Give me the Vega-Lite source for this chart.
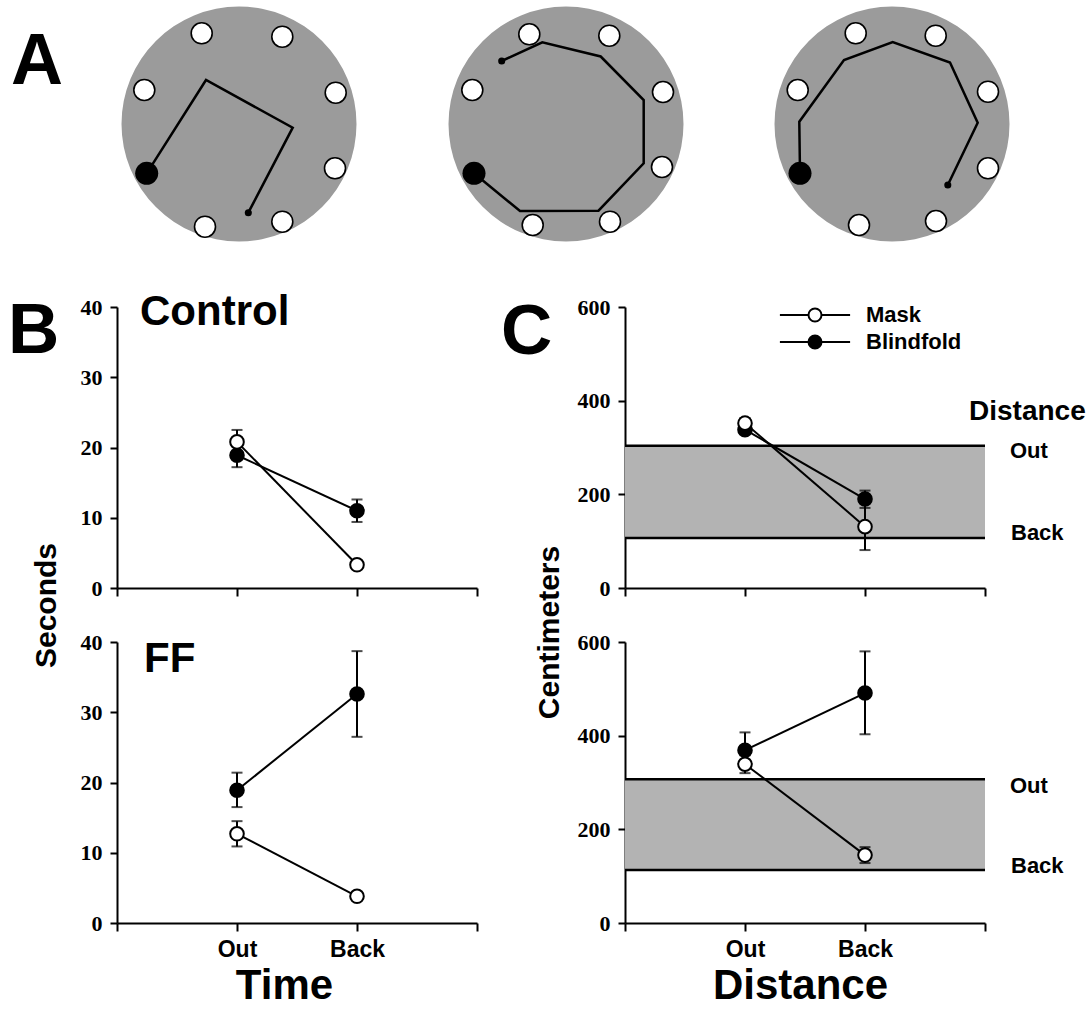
{
  "$schema": "https://vega.github.io/schema/vega-lite/v6.json",
  "background": "white",
  "padding": {"left": 8, "top": 2, "right": 0, "bottom": 0},
  "config": {
    "view": {"stroke": null},
    "font": "Liberation Sans",
    "axis": {
      "domainColor": "black", "domainWidth": 2, "tickColor": "black", "tickWidth": 2,
      "grid": false, "labelColor": "black", "titleColor": "black", "zindex": 1
    }
  },
  "datasets": {
    "results": [
      {"measure": "Time", "cond": "Control", "group": "Blindfold", "phase": "Out", "mean": 18.9, "lo": 17.2, "hi": 20.6},
      {"measure": "Time", "cond": "Control", "group": "Blindfold", "phase": "Back", "mean": 11.0, "lo": 9.4, "hi": 12.6},
      {"measure": "Time", "cond": "Control", "group": "Mask", "phase": "Out", "mean": 20.8, "lo": 19.1, "hi": 22.5},
      {"measure": "Time", "cond": "Control", "group": "Mask", "phase": "Back", "mean": 3.3, "lo": 3.3, "hi": 3.3},
      {"measure": "Time", "cond": "FF", "group": "Blindfold", "phase": "Out", "mean": 18.9, "lo": 16.5, "hi": 21.4},
      {"measure": "Time", "cond": "FF", "group": "Blindfold", "phase": "Back", "mean": 32.6, "lo": 26.5, "hi": 38.7},
      {"measure": "Time", "cond": "FF", "group": "Mask", "phase": "Out", "mean": 12.7, "lo": 10.9, "hi": 14.5},
      {"measure": "Time", "cond": "FF", "group": "Mask", "phase": "Back", "mean": 3.8, "lo": 3.6, "hi": 4.0},
      {"measure": "Distance", "cond": "Control", "group": "Blindfold", "phase": "Out", "mean": 338, "lo": 329, "hi": 347},
      {"measure": "Distance", "cond": "Control", "group": "Blindfold", "phase": "Back", "mean": 190, "lo": 171, "hi": 208},
      {"measure": "Distance", "cond": "Control", "group": "Mask", "phase": "Out", "mean": 352, "lo": 341, "hi": 363},
      {"measure": "Distance", "cond": "Control", "group": "Mask", "phase": "Back", "mean": 131, "lo": 81, "hi": 181},
      {"measure": "Distance", "cond": "FF", "group": "Blindfold", "phase": "Out", "mean": 369, "lo": 331, "hi": 407},
      {"measure": "Distance", "cond": "FF", "group": "Blindfold", "phase": "Back", "mean": 491, "lo": 403, "hi": 580},
      {"measure": "Distance", "cond": "FF", "group": "Mask", "phase": "Out", "mean": 339, "lo": 320, "hi": 358},
      {"measure": "Distance", "cond": "FF", "group": "Mask", "phase": "Back", "mean": 145, "lo": 128, "hi": 162}
    ],
    "bands": [
      {"cond": "Control", "low": 107, "high": 304},
      {"cond": "FF", "low": 113, "high": 307}
    ],
    "disks": [
      {"arena": 1, "x": 1.01, "y": 0},
      {"arena": 2, "x": 4.28, "y": 0},
      {"arena": 3, "x": 7.54, "y": 0}
    ],
    "holes": [
      {"arena": 1, "kind": "open", "x": 0.637, "y": 0.907},
      {"arena": 1, "kind": "open", "x": 1.443, "y": 0.873},
      {"arena": 1, "kind": "open", "x": 0.063, "y": 0.34},
      {"arena": 1, "kind": "open", "x": 1.977, "y": 0.313},
      {"arena": 1, "kind": "open", "x": 1.97, "y": -0.443},
      {"arena": 1, "kind": "open", "x": 0.67, "y": -1.027},
      {"arena": 1, "kind": "open", "x": 1.443, "y": -0.977},
      {"arena": 1, "kind": "start", "x": 0.087, "y": -0.493},
      {"arena": 2, "kind": "open", "x": 3.913, "y": 0.897},
      {"arena": 2, "kind": "open", "x": 4.713, "y": 0.883},
      {"arena": 2, "kind": "open", "x": 3.343, "y": 0.34},
      {"arena": 2, "kind": "open", "x": 5.25, "y": 0.32},
      {"arena": 2, "kind": "open", "x": 5.24, "y": -0.43},
      {"arena": 2, "kind": "open", "x": 3.947, "y": -1.01},
      {"arena": 2, "kind": "open", "x": 4.72, "y": -0.977},
      {"arena": 2, "kind": "start", "x": 3.36, "y": -0.493},
      {"arena": 3, "kind": "open", "x": 7.177, "y": 0.907},
      {"arena": 3, "kind": "open", "x": 7.977, "y": 0.883},
      {"arena": 3, "kind": "open", "x": 6.597, "y": 0.34},
      {"arena": 3, "kind": "open", "x": 8.5, "y": 0.323},
      {"arena": 3, "kind": "open", "x": 8.5, "y": -0.443},
      {"arena": 3, "kind": "open", "x": 7.21, "y": -1.01},
      {"arena": 3, "kind": "open", "x": 7.98, "y": -0.97},
      {"arena": 3, "kind": "start", "x": 6.62, "y": -0.493}
    ],
    "paths": [
      {"arena": 1, "step": 1, "x": 0.087, "y": -0.493, "end": false},
      {"arena": 1, "step": 2, "x": 0.68, "y": 0.44, "end": false},
      {"arena": 1, "step": 3, "x": 1.547, "y": -0.037, "end": false},
      {"arena": 1, "step": 4, "x": 1.103, "y": -0.887, "end": true},
      {"arena": 2, "step": 1, "x": 3.36, "y": -0.493, "end": false},
      {"arena": 2, "step": 2, "x": 3.82, "y": -0.87, "end": false},
      {"arena": 2, "step": 3, "x": 4.605, "y": -0.867, "end": false},
      {"arena": 2, "step": 4, "x": 5.057, "y": -0.393, "end": false},
      {"arena": 2, "step": 5, "x": 5.057, "y": 0.24, "end": false},
      {"arena": 2, "step": 6, "x": 4.627, "y": 0.675, "end": false},
      {"arena": 2, "step": 7, "x": 4.043, "y": 0.817, "end": false},
      {"arena": 2, "step": 8, "x": 3.637, "y": 0.63, "end": true},
      {"arena": 3, "step": 1, "x": 6.62, "y": -0.493, "end": false},
      {"arena": 3, "step": 2, "x": 6.613, "y": 0.023, "end": false},
      {"arena": 3, "step": 3, "x": 7.06, "y": 0.64, "end": false},
      {"arena": 3, "step": 4, "x": 7.547, "y": 0.82, "end": false},
      {"arena": 3, "step": 5, "x": 8.12, "y": 0.615, "end": false},
      {"arena": 3, "step": 6, "x": 8.397, "y": 0.013, "end": false},
      {"arena": 3, "step": 7, "x": 8.098, "y": -0.61, "end": true}
    ]
  },
  "columns": 2,
  "spacing": {"row": 54, "column": 148},
  "bounds": "flush",
  "align": "each",
  "resolve": {"legend": {"fill": "independent"}},
  "concat": [
    {
      "width": 360, "height": 251,
      "layer": [
        {
          "data": {"name": "disks"},
          "mark": {"type": "point", "filled": true, "size": 55225, "fill": "#9b9b9b", "opacity": 1, "strokeWidth": 0},
          "encoding": {
            "x": {"field": "x", "type": "quantitative", "scale": {"domain": [-0.21, 3.39], "nice": false, "zero": false}, "axis": null},
            "y": {"field": "y", "type": "quantitative", "scale": {"domain": [-1.29, 1.22], "nice": false, "zero": false}, "axis": null}
          }
        },
        {
          "data": {"name": "holes"},
          "transform": [{"filter": "datum.kind == 'open'"}],
          "mark": {"type": "point", "filled": true, "size": 441, "fill": "white", "stroke": "black", "strokeWidth": 1.6, "opacity": 1},
          "encoding": {
            "x": {"field": "x", "type": "quantitative"},
            "y": {"field": "y", "type": "quantitative"}
          }
        },
        {
          "data": {"name": "paths"},
          "mark": {"type": "line", "color": "black", "strokeWidth": 2.5},
          "encoding": {
            "x": {"field": "x", "type": "quantitative"},
            "y": {"field": "y", "type": "quantitative"},
            "detail": {"field": "arena", "type": "nominal"},
            "order": {"field": "step", "type": "quantitative"}
          }
        },
        {
          "data": {"name": "holes"},
          "transform": [{"filter": "datum.kind == 'start'"}],
          "mark": {"type": "point", "filled": true, "size": 530, "fill": "black", "opacity": 1},
          "encoding": {
            "x": {"field": "x", "type": "quantitative"},
            "y": {"field": "y", "type": "quantitative"}
          }
        },
        {
          "data": {"name": "paths"},
          "transform": [{"filter": "datum.end"}],
          "mark": {"type": "point", "filled": true, "size": 50, "fill": "black", "opacity": 1},
          "encoding": {
            "x": {"field": "x", "type": "quantitative"},
            "y": {"field": "y", "type": "quantitative"}
          }
        },
        {
          "data": {"values": [{}]},
          "mark": {"type": "text", "text": "A", "align": "left", "baseline": "alphabetic", "fontSize": 72, "fontWeight": "bold", "color": "black"},
          "encoding": {
            "x": {"datum": -1.27, "type": "quantitative"},
            "y": {"datum": 0.4, "type": "quantitative"}
          }
        }
      ]
    },
    {
      "width": 360, "height": 10,
      "data": {"values": []},
      "mark": "point"
    },
    {
      "width": 360, "height": 281,
      "layer": [
        {
          "data": {"name": "results"},
          "transform": [{"filter": "datum.measure == 'Time' && datum.cond == 'Control'"}],
          "mark": {"type": "line", "color": "black", "strokeWidth": 2},
          "encoding": {
            "x": {"field": "phase", "type": "ordinal", "scale": {"type": "point", "domain": ["origin", "Out", "Back", "end"], "padding": 0},
                  "axis": {"labels": false, "title": null, "tickSize": 8}},
            "y": {"field": "mean", "type": "quantitative", "title": "Seconds", "scale": {"domain": [0, 40], "nice": false, "zero": false},
                  "axis": {"values": [0, 10, 20, 30, 40], "tickSize": 7, "labelPadding": 8, "labelFont": "Liberation Serif", "labelFontWeight": "bold", "labelFontSize": 22, "labelFlush": false,
                           "title": "Seconds", "titleFont": "Liberation Sans", "titleFontWeight": "bold", "titleFontSize": 30, "titleAngle": 270, "titleAlign": "center", "titleBaseline": "alphabetic", "titleX": -62, "titleY": 298}},
            "detail": {"field": "group", "type": "nominal"}
          }
        },
        {
          "data": {"name": "results"},
          "transform": [{"filter": "datum.measure == 'Time' && datum.cond == 'Control'"}],
          "mark": {"type": "errorbar", "color": "black", "ticks": {"size": 11, "thickness": 2, "color": "black"}, "rule": {"strokeWidth": 2, "color": "black"}},
          "encoding": {
            "x": {"field": "phase", "type": "ordinal"},
            "y": {"field": "lo", "type": "quantitative", "title": "Seconds", "scale": {"domain": [0, 40]}},
            "y2": {"field": "hi"}
          }
        },
        {
          "data": {"name": "results"},
          "transform": [{"filter": "datum.measure == 'Time' && datum.cond == 'Control'"}],
          "mark": {"type": "point", "filled": true, "size": 185, "stroke": "black", "strokeWidth": 2, "opacity": 1},
          "encoding": {
            "x": {"field": "phase", "type": "ordinal"},
            "y": {"field": "mean", "type": "quantitative", "title": "Seconds"},
            "fill": {"field": "group", "type": "nominal", "scale": {"domain": ["Mask", "Blindfold"], "range": ["white", "black"]}, "legend": null}
          }
        },
        {
          "data": {"values": [{}]},
          "mark": {"type": "text", "text": "B", "align": "left", "baseline": "alphabetic", "fontSize": 71, "fontWeight": "bold", "color": "black", "dx": -109},
          "encoding": {
            "x": {"datum": "origin", "type": "ordinal"},
            "y": {"datum": 33.45, "type": "quantitative", "title": "Seconds"}
          }
        },
        {
          "data": {"values": [{}]},
          "mark": {"type": "text", "text": "Control", "align": "left", "baseline": "alphabetic", "fontSize": 42, "fontWeight": "bold", "color": "black", "dx": 23},
          "encoding": {
            "x": {"datum": "origin", "type": "ordinal"},
            "y": {"datum": 37.44, "type": "quantitative", "title": "Seconds"}
          }
        }
      ]
    },
    {
      "width": 360, "height": 281,
      "layer": [
        {
          "data": {"name": "bands"},
          "transform": [{"filter": "datum.cond == 'Control'"}],
          "mark": {"type": "rect", "fill": "#b3b3b3", "opacity": 1},
          "encoding": {
            "x": {"datum": "origin", "type": "ordinal", "scale": {"type": "point", "domain": ["origin", "Out", "Back", "end"], "padding": 0},
                  "axis": {"labels": false, "title": null, "tickSize": 8}},
            "x2": {"datum": "end"},
            "y": {"field": "low", "type": "quantitative", "title": "Centimeters", "scale": {"domain": [0, 600], "nice": false, "zero": false},
                  "axis": {"values": [0, 200, 400, 600], "tickSize": 7, "labelPadding": 8, "labelFont": "Liberation Serif", "labelFontWeight": "bold", "labelFontSize": 22, "labelFlush": false,
                           "title": "Centimeters", "titleFont": "Liberation Sans", "titleFontWeight": "bold", "titleFontSize": 30, "titleAngle": 270, "titleAlign": "center", "titleBaseline": "alphabetic", "titleX": -67, "titleY": 325}},
            "y2": {"field": "high"}
          }
        },
        {
          "data": {"name": "bands"},
          "transform": [{"filter": "datum.cond == 'Control'"}],
          "mark": {"type": "rule", "color": "black", "strokeWidth": 2.5},
          "encoding": {
            "x": {"datum": "origin", "type": "ordinal"},
            "x2": {"datum": "end"},
            "y": {"field": "high", "type": "quantitative", "title": "Centimeters"}
          }
        },
        {
          "data": {"name": "bands"},
          "transform": [{"filter": "datum.cond == 'Control'"}],
          "mark": {"type": "rule", "color": "black", "strokeWidth": 2.5},
          "encoding": {
            "x": {"datum": "origin", "type": "ordinal"},
            "x2": {"datum": "end"},
            "y": {"field": "low", "type": "quantitative", "title": "Centimeters"}
          }
        },
        {
          "data": {"name": "results"},
          "transform": [{"filter": "datum.measure == 'Distance' && datum.cond == 'Control'"}],
          "mark": {"type": "line", "color": "black", "strokeWidth": 2},
          "encoding": {
            "x": {"field": "phase", "type": "ordinal"},
            "y": {"field": "mean", "type": "quantitative", "title": "Centimeters"},
            "detail": {"field": "group", "type": "nominal"}
          }
        },
        {
          "data": {"name": "results"},
          "transform": [{"filter": "datum.measure == 'Distance' && datum.cond == 'Control'"}],
          "mark": {"type": "errorbar", "color": "black", "ticks": {"size": 11, "thickness": 2, "color": "black"}, "rule": {"strokeWidth": 2, "color": "black"}},
          "encoding": {
            "x": {"field": "phase", "type": "ordinal"},
            "y": {"field": "lo", "type": "quantitative", "title": "Centimeters"},
            "y2": {"field": "hi"}
          }
        },
        {
          "data": {"name": "results"},
          "transform": [{"filter": "datum.measure == 'Distance' && datum.cond == 'Control'"}],
          "mark": {"type": "point", "filled": true, "size": 185, "stroke": "black", "strokeWidth": 2, "opacity": 1},
          "encoding": {
            "x": {"field": "phase", "type": "ordinal"},
            "y": {"field": "mean", "type": "quantitative", "title": "Centimeters"},
            "fill": {"field": "group", "type": "nominal", "scale": {"domain": ["Mask", "Blindfold"], "range": ["white", "black"]},
                     "legend": {"orient": "none", "legendX": 179, "legendY": -3, "title": null, "padding": 0,
                                "symbolType": "M-5.4,0H-1M1,0H5.4M1,0A1,1,0,1,1,-1,0A1,1,0,1,1,1,0Z", "symbolSize": 169,
                                "symbolStrokeColor": "black", "symbolStrokeWidth": 2, "symbolOffset": 0,
                                "labelFont": "Liberation Sans", "labelFontWeight": "bold", "labelFontSize": 22, "labelColor": "black",
                                "labelOffset": 40, "rowPadding": 5}}
          }
        },
        {
          "data": {"values": [{}]},
          "mark": {"type": "text", "text": "C", "align": "left", "baseline": "alphabetic", "fontSize": 71, "fontWeight": "bold", "color": "black", "dx": -124},
          "encoding": {
            "x": {"datum": "origin", "type": "ordinal"},
            "y": {"datum": 500, "type": "quantitative", "title": "Centimeters"}
          }
        },
        {
          "data": {"values": [{}]},
          "mark": {"type": "text", "text": "Distance", "align": "left", "baseline": "alphabetic", "fontSize": 28, "fontWeight": "bold", "color": "black", "dx": -16},
          "encoding": {
            "x": {"datum": "end", "type": "ordinal"},
            "y": {"datum": 359, "type": "quantitative", "title": "Centimeters"}
          }
        },
        {
          "data": {"name": "bands"},
          "transform": [{"filter": "datum.cond == 'Control'"}],
          "mark": {"type": "text", "text": "Out", "align": "left", "baseline": "alphabetic", "fontSize": 22, "fontWeight": "bold", "color": "black", "dx": 25, "dy": 12.5},
          "encoding": {
            "x": {"datum": "end", "type": "ordinal"},
            "y": {"field": "high", "type": "quantitative", "title": "Centimeters"}
          }
        },
        {
          "data": {"name": "bands"},
          "transform": [{"filter": "datum.cond == 'Control'"}],
          "mark": {"type": "text", "text": "Back", "align": "left", "baseline": "alphabetic", "fontSize": 22, "fontWeight": "bold", "color": "black", "dx": 26, "dy": 2.5},
          "encoding": {
            "x": {"datum": "end", "type": "ordinal"},
            "y": {"field": "low", "type": "quantitative", "title": "Centimeters"}
          }
        }
      ]
    },
    {
      "width": 360, "height": 281,
      "layer": [
        {
          "data": {"name": "results"},
          "transform": [{"filter": "datum.measure == 'Time' && datum.cond == 'FF'"}],
          "mark": {"type": "line", "color": "black", "strokeWidth": 2},
          "encoding": {
            "x": {"field": "phase", "type": "ordinal", "scale": {"type": "point", "domain": ["origin", "Out", "Back", "end"], "padding": 0},
                  "axis": {"tickSize": 8, "labelAngle": 0, "labelExpr": "datum.value == 'Out' || datum.value == 'Back' ? datum.value : ''",
                           "labelFont": "Liberation Sans", "labelFontWeight": "bold", "labelFontSize": 23, "labelPadding": 7, "labelDx": -8,
                           "title": "Time", "titleFont": "Liberation Sans", "titleFontWeight": "bold", "titleFontSize": 42, "titleAlign": "center", "titleBaseline": "alphabetic", "titleX": 167, "titleY": 75}},
            "y": {"field": "mean", "type": "quantitative", "scale": {"domain": [0, 40], "nice": false, "zero": false},
                  "axis": {"values": [0, 10, 20, 30, 40], "tickSize": 7, "labelPadding": 8, "labelFont": "Liberation Serif", "labelFontWeight": "bold", "labelFontSize": 22, "labelFlush": false, "title": null}},
            "detail": {"field": "group", "type": "nominal"}
          }
        },
        {
          "data": {"name": "results"},
          "transform": [{"filter": "datum.measure == 'Time' && datum.cond == 'FF'"}],
          "mark": {"type": "errorbar", "color": "black", "ticks": {"size": 11, "thickness": 2, "color": "black"}, "rule": {"strokeWidth": 2, "color": "black"}},
          "encoding": {
            "x": {"field": "phase", "type": "ordinal"},
            "y": {"field": "lo", "type": "quantitative", "scale": {"domain": [0, 40]}},
            "y2": {"field": "hi"}
          }
        },
        {
          "data": {"name": "results"},
          "transform": [{"filter": "datum.measure == 'Time' && datum.cond == 'FF'"}],
          "mark": {"type": "point", "filled": true, "size": 185, "stroke": "black", "strokeWidth": 2, "opacity": 1},
          "encoding": {
            "x": {"field": "phase", "type": "ordinal"},
            "y": {"field": "mean", "type": "quantitative"},
            "fill": {"field": "group", "type": "nominal", "scale": {"domain": ["Mask", "Blindfold"], "range": ["white", "black"]}, "legend": null}
          }
        },
        {
          "data": {"values": [{}]},
          "mark": {"type": "text", "text": "FF", "align": "left", "baseline": "alphabetic", "fontSize": 42, "fontWeight": "bold", "color": "black", "dx": 27},
          "encoding": {
            "x": {"datum": "origin", "type": "ordinal"},
            "y": {"datum": 35.73, "type": "quantitative"}
          }
        }
      ]
    },
    {
      "width": 360, "height": 281,
      "layer": [
        {
          "data": {"name": "bands"},
          "transform": [{"filter": "datum.cond == 'FF'"}],
          "mark": {"type": "rect", "fill": "#b3b3b3", "opacity": 1},
          "encoding": {
            "x": {"datum": "origin", "type": "ordinal", "scale": {"type": "point", "domain": ["origin", "Out", "Back", "end"], "padding": 0},
                  "axis": {"tickSize": 8, "labelAngle": 0, "labelExpr": "datum.value == 'Out' || datum.value == 'Back' ? datum.value : ''",
                           "labelFont": "Liberation Sans", "labelFontWeight": "bold", "labelFontSize": 23, "labelPadding": 7, "labelDx": -8,
                           "title": "Distance", "titleFont": "Liberation Sans", "titleFontWeight": "bold", "titleFontSize": 42, "titleAlign": "center", "titleBaseline": "alphabetic", "titleX": 175, "titleY": 75}},
            "x2": {"datum": "end"},
            "y": {"field": "low", "type": "quantitative", "scale": {"domain": [0, 600], "nice": false, "zero": false},
                  "axis": {"values": [0, 200, 400, 600], "tickSize": 7, "labelPadding": 8, "labelFont": "Liberation Serif", "labelFontWeight": "bold", "labelFontSize": 22, "labelFlush": false, "title": null}},
            "y2": {"field": "high"}
          }
        },
        {
          "data": {"name": "bands"},
          "transform": [{"filter": "datum.cond == 'FF'"}],
          "mark": {"type": "rule", "color": "black", "strokeWidth": 2.5},
          "encoding": {
            "x": {"datum": "origin", "type": "ordinal"},
            "x2": {"datum": "end"},
            "y": {"field": "high", "type": "quantitative"}
          }
        },
        {
          "data": {"name": "bands"},
          "transform": [{"filter": "datum.cond == 'FF'"}],
          "mark": {"type": "rule", "color": "black", "strokeWidth": 2.5},
          "encoding": {
            "x": {"datum": "origin", "type": "ordinal"},
            "x2": {"datum": "end"},
            "y": {"field": "low", "type": "quantitative"}
          }
        },
        {
          "data": {"name": "results"},
          "transform": [{"filter": "datum.measure == 'Distance' && datum.cond == 'FF'"}],
          "mark": {"type": "line", "color": "black", "strokeWidth": 2},
          "encoding": {
            "x": {"field": "phase", "type": "ordinal"},
            "y": {"field": "mean", "type": "quantitative"},
            "detail": {"field": "group", "type": "nominal"}
          }
        },
        {
          "data": {"name": "results"},
          "transform": [{"filter": "datum.measure == 'Distance' && datum.cond == 'FF'"}],
          "mark": {"type": "errorbar", "color": "black", "ticks": {"size": 11, "thickness": 2, "color": "black"}, "rule": {"strokeWidth": 2, "color": "black"}},
          "encoding": {
            "x": {"field": "phase", "type": "ordinal"},
            "y": {"field": "lo", "type": "quantitative"},
            "y2": {"field": "hi"}
          }
        },
        {
          "data": {"name": "results"},
          "transform": [{"filter": "datum.measure == 'Distance' && datum.cond == 'FF'"}],
          "mark": {"type": "point", "filled": true, "size": 185, "stroke": "black", "strokeWidth": 2, "opacity": 1},
          "encoding": {
            "x": {"field": "phase", "type": "ordinal"},
            "y": {"field": "mean", "type": "quantitative"},
            "fill": {"field": "group", "type": "nominal", "scale": {"domain": ["Mask", "Blindfold"], "range": ["white", "black"]}, "legend": null}
          }
        },
        {
          "data": {"name": "bands"},
          "transform": [{"filter": "datum.cond == 'FF'"}],
          "mark": {"type": "text", "text": "Out", "align": "left", "baseline": "alphabetic", "fontSize": 22, "fontWeight": "bold", "color": "black", "dx": 25, "dy": 13.5},
          "encoding": {
            "x": {"datum": "end", "type": "ordinal"},
            "y": {"field": "high", "type": "quantitative"}
          }
        },
        {
          "data": {"name": "bands"},
          "transform": [{"filter": "datum.cond == 'FF'"}],
          "mark": {"type": "text", "text": "Back", "align": "left", "baseline": "alphabetic", "fontSize": 22, "fontWeight": "bold", "color": "black", "dx": 26, "dy": 2.5},
          "encoding": {
            "x": {"datum": "end", "type": "ordinal"},
            "y": {"field": "low", "type": "quantitative"}
          }
        }
      ]
    }
  ]
}
